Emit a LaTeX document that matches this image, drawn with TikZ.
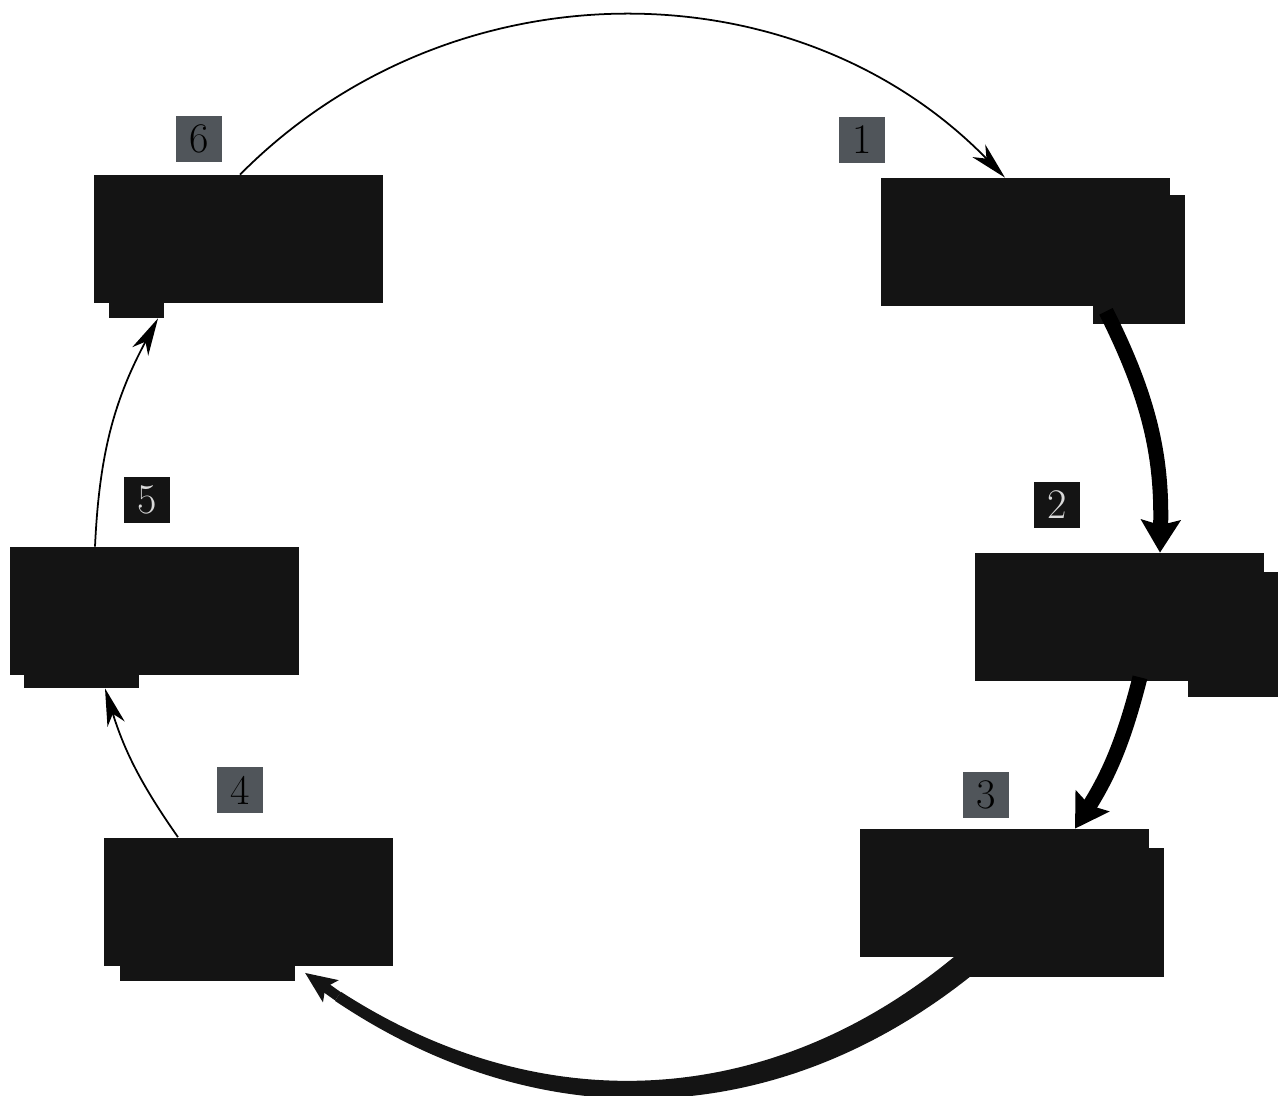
\documentclass[tikz,border=0pt]{standalone}
\usepackage{tikz}
\usetikzlibrary{arrows.meta, positioning, calc}
\definecolor{boxblack}{HTML}{141414}
\definecolor{taggray}{HTML}{50555A}

\begin{document}
\begin{tikzpicture}[
  box/.style={fill=boxblack, minimum width=5.78cm, minimum height=2.56cm, inner sep=0pt},
  tag/.style={fill=taggray, minimum size=0.92cm, inner sep=0pt, font=\fontsize{24}{24}\selectfont},
  tagdark/.style={tag, fill=boxblack, text=white!85!black},
  flowthin/.style={line width=1pt, -{Stealth[length=0.75cm, width=0.36cm, inset=0.22cm]}},
  flowthick/.style={line width=0.3cm, -{Stealth[length=0.65cm, width=0.78cm, inset=0.1cm]}}
]
  \useasboundingbox (0,0) rectangle (25.74,-21.92);

  % Cadres (boites noires)
  \node[box] (b1) at (20.5,-4.84) {};
  \node[box] (b2) at (22.38,-12.34) {};
  \node[box] (b3) at (20.09,-17.86) {};
  \node[box] (b4) at (4.97,-18.03) {};
  \node[box] (b5) at (3.08,-12.22) {};
  \node[box] (b6) at (4.77,-4.78) {};

  % Doubles decales
  \fill[boxblack] ([shift={(-1.54,-0.34)}]b1.north east) rectangle ([shift={(0.3,-0.36)}]b1.south east);
  \fill[boxblack] ([shift={(-1.52,-0.38)}]b2.north east) rectangle ([shift={(0.28,-0.32)}]b2.south east);
  \fill[boxblack] ([shift={(-3.8,-0.38)}]b3.north east) rectangle ([shift={(0.3,-0.4)}]b3.south east);
  \fill[boxblack] ([shift={(0.32,1.3)}]b4.south west) rectangle ([shift={(3.82,-0.3)}]b4.south west);
  \fill[boxblack] ([shift={(0.3,1.5)}]b5.south west) rectangle ([shift={(2.6,-0.26)}]b5.south west);
  \fill[boxblack] ([shift={(0.3,1.26)}]b6.south west) rectangle ([shift={(1.4,-0.3)}]b6.south west);

  % Numeros
  \node[tag] (n1) at (17.24,-2.8) {1};
  \node[tagdark] (n2) at (21.14,-10.1) {2};
  \node[tag] (n3) at (19.72,-15.9) {3};
  \node[tag] (n4) at (4.8,-15.8) {4};
  \node[tagdark] (n5) at (2.94,-10.0) {5};
  \node[tag] (n6) at (3.98,-2.78) {6};

  % Fleches fines
  \draw[flowthin] ([xshift=0.03cm]b6.north) to[bend left=45.5] ([xshift=-0.4cm]b1.north);
  \draw[flowthin] ([xshift=-1.41cm]b4.north) to[bend left=8.9] ([shift={(-0.98,-0.26)}]b5.south);
  \draw[flowthin] ([xshift=-1.18cm]b5.north) to[bend left=12.8] ([shift={(-1.61,-0.3)}]b6.south);

  % Fleches epaisses
  \draw[flowthick] ([shift={(1.62,-0.1)}]b1.south) to[bend left=14] ([xshift=0.82cm]b2.north);
  \draw[flowthick] ([shift={(0.42,0.08)}]b2.south) to[bend left=9] ([xshift=1.41cm]b3.north);

  % Fleche effilee 3 -> 4
  \coordinate (t3o) at ([shift={(-0.58,-0.3)}]b3.south);
  \coordinate (t3i) at ([shift={(-0.9,0.1)}]b3.south);
  \coordinate (t4o) at ([shift={(1.73,-0.7)}]b4.south);
  \coordinate (t4i) at ([shift={(1.85,-0.52)}]b4.south);
  \coordinate (t4m) at ([shift={(1.79,-0.61)}]b4.south);
  \coordinate (t4tip) at ([shift={(1.13,-0.14)}]b4.south);
  \fill[boxblack] (t3o) to[bend left=36.5] (t4o) -- (t4i) to[bend right=36.5] (t3i) -- cycle;
  \draw[boxblack, line width=0.2cm, -{Stealth[length=0.62cm, width=0.52cm, inset=0.12cm]}] (t4m) -- (t4tip);
\end{tikzpicture}
\end{document}
